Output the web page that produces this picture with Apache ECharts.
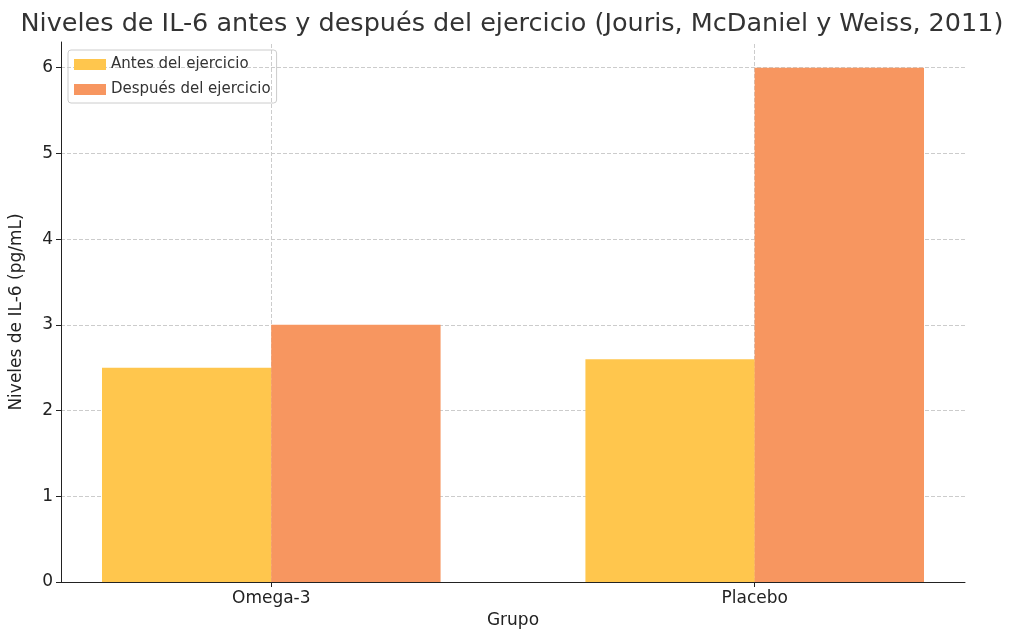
<!DOCTYPE html>
<html><head><meta charset="utf-8">
<script src="https://cdn.jsdelivr.net/npm/echarts@6/dist/echarts.min.js"></script>
<style>html,body{margin:0;padding:0;background:#fff}#c{width:1024px;height:644px}</style>
</head><body><div id="c"></div>
<script>
const categories = ["Omega-3", "Placebo"];
const antes = [2.5, 2.6];
const despues = [3.0, 6.0];
const yTicks = [0, 1, 2, 3, 4, 5, 6];
const barW = 0.35;
const chart = echarts.init(document.getElementById('c'));
const f = 'DejaVu Sans';
const plotW = 905, xMin = -0.435, xMax = 1.435;
const pxW = barW * plotW / (xMax - xMin);
chart.setOption({
  animation: false,
  title: {text: 'Niveles de IL-6 antes y después del ejercicio (Jouris, McDaniel y Weiss, 2011)', left: 'center', top: 6,
    textStyle: {fontFamily: f, fontSize: 25.5, fontWeight: 'normal', color: '#333'}},
  legend: {left: 68, top: 50, orient: 'vertical', itemWidth: 32, itemHeight: 11, itemGap: 10,
    borderColor: '#ccc', borderWidth: 1, borderRadius: 3, padding: [7, 6, 6, 6],
    textStyle: {fontFamily: f, fontSize: 15, color: '#333'}, icon: 'rect'},
  grid: {left: 60, right: 59, top: 42, bottom: 62},
  xAxis: {type: 'value', min: xMin, max: xMax, name: 'Grupo', nameLocation: 'middle', nameGap: 30,
    nameTextStyle: {fontFamily: f, fontSize: 17, color: '#222'},
    axisLine: {show: true, onZero: false, lineStyle: {color: '#222'}}, splitLine: {show: false},
    axisTick: {customValues: [0, 1], lineStyle: {color: '#222'}},
    axisLabel: {customValues: [0, 1], formatter: v => categories[Math.round(v)], fontFamily: f, fontSize: 17, color: '#222'}},
  yAxis: {type: 'value', min: 0, max: 6.3, interval: 1, name: 'Niveles de IL-6 (pg/mL)', nameLocation: 'middle', nameGap: 36,
    nameTextStyle: {fontFamily: f, fontSize: 17, color: '#222'},
    axisLine: {show: true, onZero: false, lineStyle: {color: '#222'}}, axisTick: {show: true, lineStyle: {color: '#222'}},
    axisLabel: {showMaxLabel: false, fontFamily: f, fontSize: 17, color: '#222', formatter: v => yTicks.includes(v) ? v : ''},
    splitLine: {show: true, showMaxLine: false, lineStyle: {type: 'dashed', color: '#ccc'}}},
  series: [
    {name: 'Antes del ejercicio', type: 'bar', barWidth: pxW, barGap: '-100%', itemStyle: {color: '#FFC64D'}, z: 3,
      data: antes.map((v, i) => [i - barW / 2, v]),
      markLine: {silent: true, symbol: 'none', label: {show: false}, lineStyle: {type: 'dashed', color: '#ccc', width: 1}, z: 1,
        data: categories.map((c, i) => ({xAxis: i}))}},
    {name: 'Después del ejercicio', type: 'bar', barWidth: pxW, barGap: '-100%', itemStyle: {color: '#F79660'}, z: 3,
      data: despues.map((v, i) => [i + barW / 2, v])}
  ]
});
</script></body></html>
